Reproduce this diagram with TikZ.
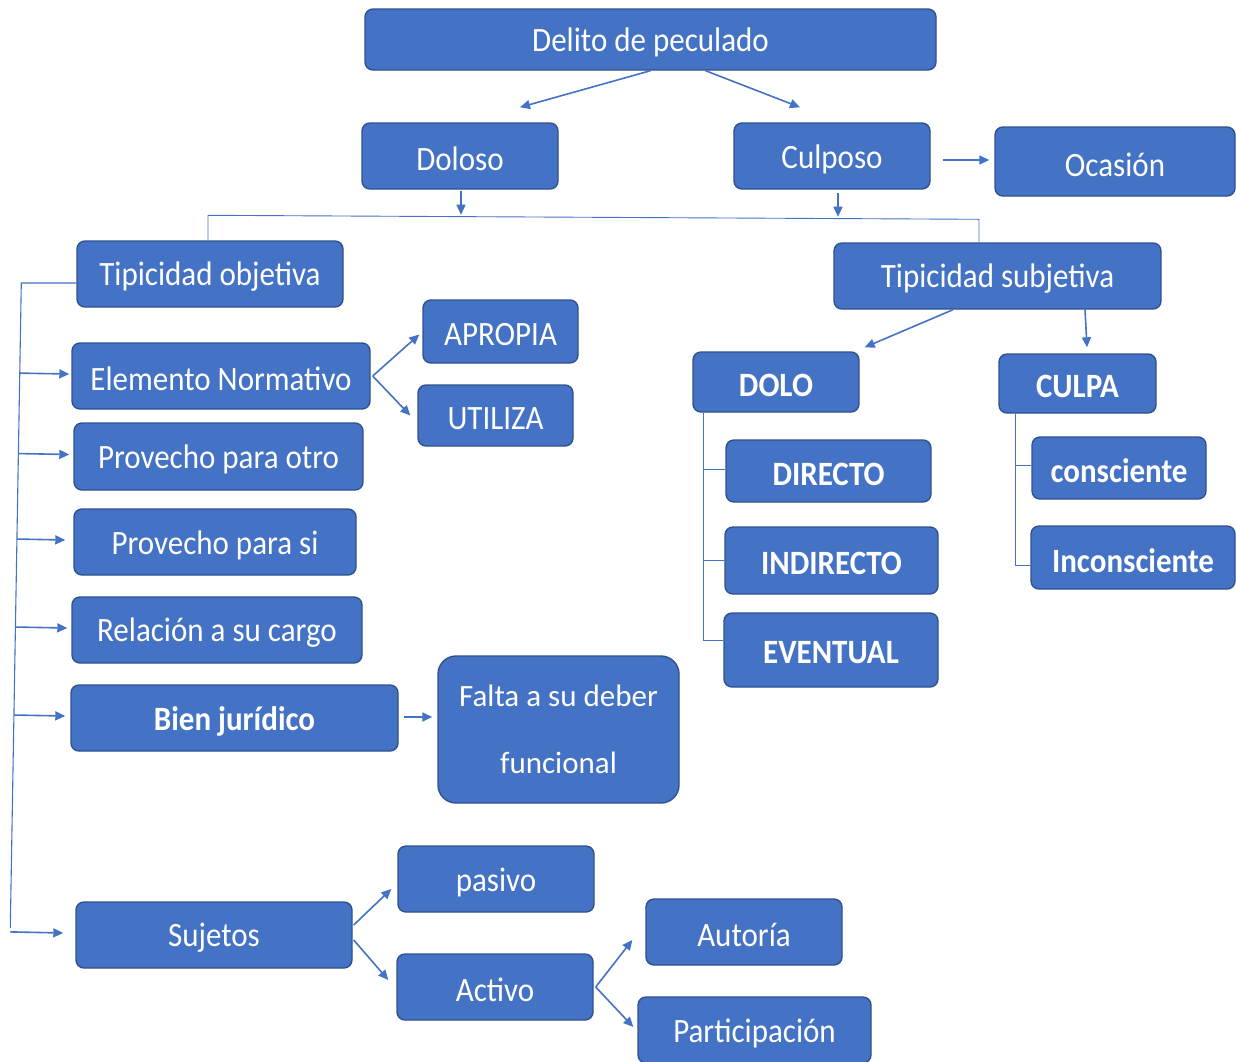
\documentclass[tikz,border=0pt]{standalone}
\usepackage{fontspec}
\setmainfont{Carlito}
\usetikzlibrary{arrows.meta,calc}
\definecolor{boxc}{HTML}{4472C4}
\definecolor{bordc}{HTML}{2F528F}
\definecolor{linec}{HTML}{4472C4}
\tikzset{
  box/.style={draw=bordc, fill=boxc, rounded corners=8pt, line width=1.4pt, text=white,
    font=\fontsize{31}{37}\selectfont, inner sep=0pt, align=center},
  arr/.style={draw=linec, line width=1.6pt, -{Triangle[length=10pt,width=9pt]}},
  thinln/.style={draw=linec, line width=0.9pt},
  bf/.style={font=\fontsize{31}{37}\selectfont\bfseries}
}
\newcommand\boxtxt[1]{\raisebox{-3pt}[\height][\depth]{\scalebox{1}[1.1]{#1}}}
\newcommand\mybox[7][]{\node[box,#1,minimum width={(#5-#3)*1pt},minimum height={(#6-#4)*1pt}] (#2) at ({(#3+#5)/2},{(#4+#6)/2}) {\boxtxt{#7}};}
\begin{document}
\begin{tikzpicture}[x=1pt,y=-1pt]
\useasboundingbox (0,0) rectangle (1236,1061);
% top
\mybox{delito}{365}{9}{936}{70}{Delito de peculado}
\mybox{doloso}{362}{123}{558}{189}{Doloso}
\mybox{culposo}{734}{123}{930}{189}{Culposo}
\mybox{ocasion}{995}{127}{1235}{196}{Ocasión}
\mybox{tobj}{77}{241}{343}{307}{Tipicidad objetiva}
\mybox{tsub}{834}{243}{1161}{309}{Tipicidad subjetiva}
% left column
\mybox{apropia}{423}{300}{578}{363}{APROPIA}
\mybox{utiliza}{418}{385}{573}{446}{UTILIZA}
\mybox{elem}{72}{343}{370}{409}{Elemento Normativo}
\mybox{potro}{74}{423}{363}{490}{Provecho para otro}
\mybox{psi}{74}{509}{356}{575}{Provecho para si}
\mybox{rel}{72}{597}{362}{663}{Relación a su cargo}
\mybox[bf]{bien}{71}{685}{398}{751}{Bien jurídico}
\node[box,rounded corners=18pt,font=\fontsize{31}{67}\selectfont,minimum width=241pt,minimum height=147pt] (falta) at (558.5,729.5) {Falta a su deber\\funcional};
\mybox{sujetos}{76}{902}{352}{968}{Sujetos}
\mybox{pasivo}{398}{846}{594}{912}{pasivo}
\mybox{activo}{397}{954}{593}{1020}{Activo}
\mybox{autoria}{646}{899}{842}{965}{Autoría}
\mybox{partic}{638}{997}{871}{1063}{Participación}
% right column
\mybox[bf]{dolo}{693}{352}{859}{412}{DOLO}
\mybox[bf]{culpa}{999}{354}{1156}{413}{CULPA}
\mybox[bf]{directo}{726}{440}{931}{502}{DIRECTO}
\mybox[bf]{indirecto}{725}{527}{938}{594}{INDIRECTO}
\mybox[bf]{eventual}{724}{613}{938}{687}{EVENTUAL}
\mybox[bf]{consc}{1032}{437}{1206}{499}{consciente}
\mybox[bf]{incons}{1031}{526}{1235}{589}{Inconsciente}

% top connectors
\draw[arr] (delito.south) -- ([xshift=60pt,yshift=15pt]doloso.north);
\draw[arr] ([xshift=55pt]delito.south) -- ([xshift=-32pt,yshift=15pt]culposo.north);
\draw[arr] ([xshift=12pt,yshift=-4pt]culposo.east) -- ([xshift=-5pt,yshift=-4pt]culposo.east -| ocasion.west);
\draw[arr] ([xshift=1pt,yshift=-1pt]doloso.south) -- ([xshift=1pt,yshift=-25pt]doloso.south);
\draw[arr] ([xshift=6pt,yshift=-3pt]culposo.south) -- ([xshift=6pt,yshift=-27pt]culposo.south);
% bracket to tipicidades
\coordinate (hl) at ([xshift=-2pt,yshift=25pt]tobj.north);
\coordinate (hr) at ([xshift=-18.5pt,yshift=23pt]tsub.north);
\draw[thinln] ([xshift=-2pt]tobj.north) -- (hl) -- (hr) -- ([xshift=-18.5pt]tsub.north);

% left spine
\coordinate (st) at ([xshift=-55pt,yshift=-9pt]tobj.west);
\coordinate (sb) at ([xshift=-65pt,yshift=7pt]sujetos.west);
\draw[thinln,line width=1.1pt] ([yshift=-9pt]tobj.west) -- (st) -- (sb);
\foreach \n/\g in {elem/2,potro/4,psi/8,rel/4,bien/5,sujetos/12}{
  \draw[arr] ($(st)!([yshift=2pt]\n.west)!(sb)$) -- ([xshift=-\g pt,yshift=2pt]\n.west);
}
\draw[arr] ([xshift=2pt]elem.east) -- ([xshift=-3pt,yshift=-3pt]apropia.west);
\draw[arr] ([xshift=2pt]elem.east) -- ([xshift=-7pt]utiliza.west);
\draw[arr] ([xshift=5pt,yshift=1pt]bien.east) -- ([xshift=-5pt,yshift=1pt]falta.west |- bien.east);
\draw[arr] ([xshift=1pt,yshift=10pt]sujetos.east) -- ([xshift=-6pt,yshift=-10pt]pasivo.west);
\draw[arr] ([xshift=1pt,yshift=-5pt]sujetos.east) -- ([xshift=-8pt,yshift=7pt]activo.west);
\draw[arr] ([xshift=2pt]activo.east) -- ([xshift=-13pt,yshift=-8pt]autoria.west);
\draw[arr] ([xshift=2pt]activo.east) -- ([xshift=-4pt,yshift=3pt]partic.west);

% right connectors
\draw[arr] ([xshift=-44.5pt]tsub.south) -- ([xshift=5pt,yshift=4pt]dolo.north east);
\draw[arr] ([xshift=87.5pt]tsub.south) -- ([xshift=9.5pt,yshift=6pt]culpa.north);
\coordinate (ds) at ([xshift=11pt]dolo.south west);
\draw[thinln] (ds) |- ([yshift=10pt]eventual.west);
\draw[thinln] ([yshift=2pt]directo.west) -- ([yshift=2pt]directo.west -| ds);
\draw[thinln] (indirecto.west) -- (indirecto.west -| ds);
\coordinate (cs) at ([xshift=17pt]culpa.south west);
\draw[thinln] (cs) |- ([yshift=-7.5pt]incons.west);
\draw[thinln] ([yshift=3pt]consc.west) -- ([yshift=3pt]consc.west -| cs);
\end{tikzpicture}
\end{document}
